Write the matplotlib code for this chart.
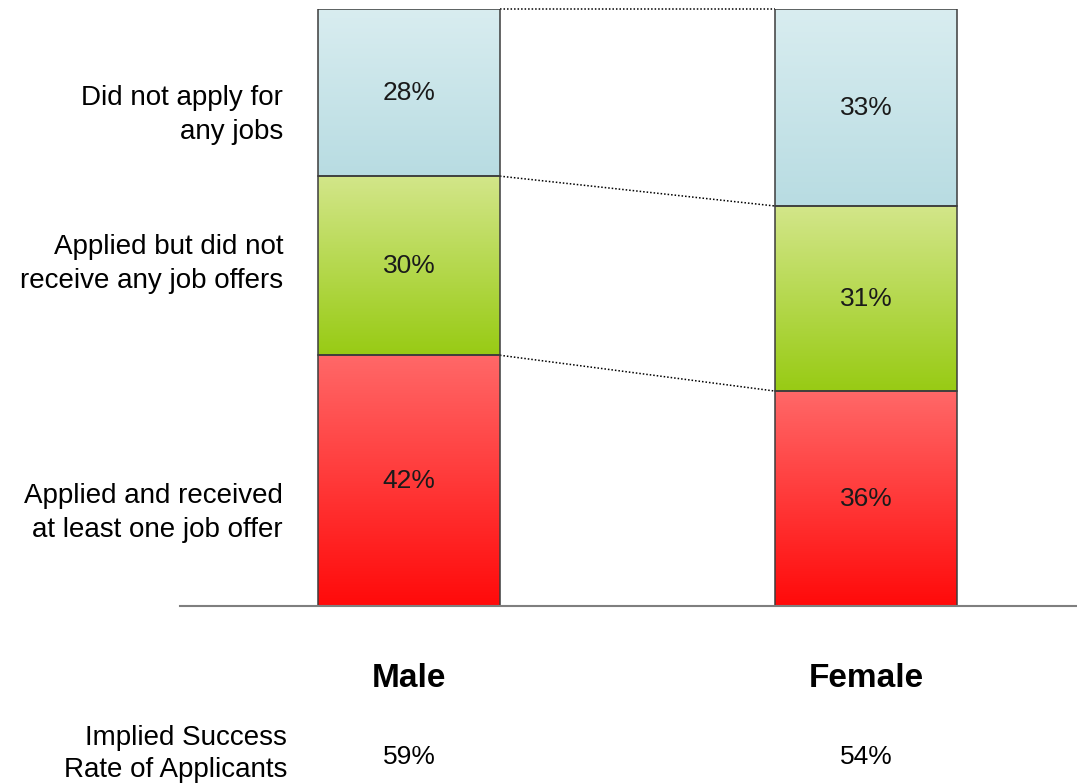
import numpy as np
import matplotlib
matplotlib.use("Agg")
import matplotlib.pyplot as plt
from matplotlib.colors import LinearSegmentedColormap

plt.rcParams['font.family'] = ['Liberation Sans', 'DejaVu Sans']

# ---- data ----
groups = ["Male", "Female"]
segments = [
    "Applied and received\nat least one job offer",
    "Applied but did not\nreceive any job offers",
    "Did not apply for\nany jobs",
]
values = {
    "Male":   [42, 30, 28],
    "Female": [36, 31, 33],
}
success_rates = ["59%", "54%"]
success_label = "Implied Success\nRate of Applicants"

# gradient (top colour, bottom colour) for each segment, bottom segment first
gradients = [
    ("#ff6868", "#ff0a0a"),
    ("#d3e68a", "#98cb14"),
    ("#d9edf0", "#b8dce2"),
]
label_y = [15.6, 57.3, 82.2]   # vertical position of the row labels (percent units)

W, H = 1077, 784
fig = plt.figure(figsize=(W / 100, H / 100), dpi=100)
ax = fig.add_axes([180 / W, (H - 606) / H, 897 / W, 597 / H])
ax.axis("off")

bar_w = 0.398
xs = np.arange(len(groups))

for xi, g in zip(xs, groups):
    bottom = 0
    for si, v in enumerate(values[g]):
        top_c, bot_c = gradients[si]
        cmap = LinearSegmentedColormap.from_list("g", [bot_c, top_c])
        grad = np.linspace(0, 1, 256).reshape(-1, 1)
        ax.imshow(grad, cmap=cmap, aspect="auto", origin="lower",
                  extent=(xi - bar_w / 2, xi + bar_w / 2, bottom, bottom + v),
                  interpolation="bicubic", zorder=1)
        ax.add_patch(plt.Rectangle((xi - bar_w / 2, bottom), bar_w, v,
                                   fill=False, edgecolor="#3c3c3c", lw=1.1, zorder=3))
        ax.text(xi, bottom + v / 2, f"{v}%", ha="center", va="center",
                fontsize=19, color="#1a1a1a", zorder=4)
        bottom += v

ax.set_xlim(-0.501, -0.501 + 897 / 457)
ax.set_ylim(0, 100)

# dotted connectors between segment boundaries
cum_m = np.cumsum(values["Male"])
cum_f = np.cumsum(values["Female"])
for ym, yf in zip(cum_m, cum_f):
    ax.plot([xs[0] + bar_w / 2, xs[1] - bar_w / 2], [ym, yf],
            color="black", lw=1.1, ls=(0, (1, 1.3)), zorder=2, clip_on=False)

# baseline
ax.plot([-0.501, -0.501 + 897 / 457], [0, 0], color="#7f7f7f", lw=1.5,
        zorder=5, clip_on=False)

# row labels
lab_x = xs[0] - bar_w / 2 - 35 / 457
for y, s in zip(label_y, segments):
    ax.text(lab_x, y, s, ha="right", va="center", fontsize=20,
            linespacing=1.42, clip_on=False)

# group names and success rates
for xi, g, r in zip(xs, groups, success_rates):
    ax.text(xi, -12.1, g, ha="center", va="center", fontsize=24,
            fontweight="bold", clip_on=False)
    ax.text(xi, -25.3, r, ha="center", va="center", fontsize=19, clip_on=False)

ax.text(lab_x + 4 / 457, -24.8, success_label, ha="right", va="center",
        fontsize=20, linespacing=1.32, clip_on=False)

fig.savefig("out.png", dpi=100, facecolor="white")
